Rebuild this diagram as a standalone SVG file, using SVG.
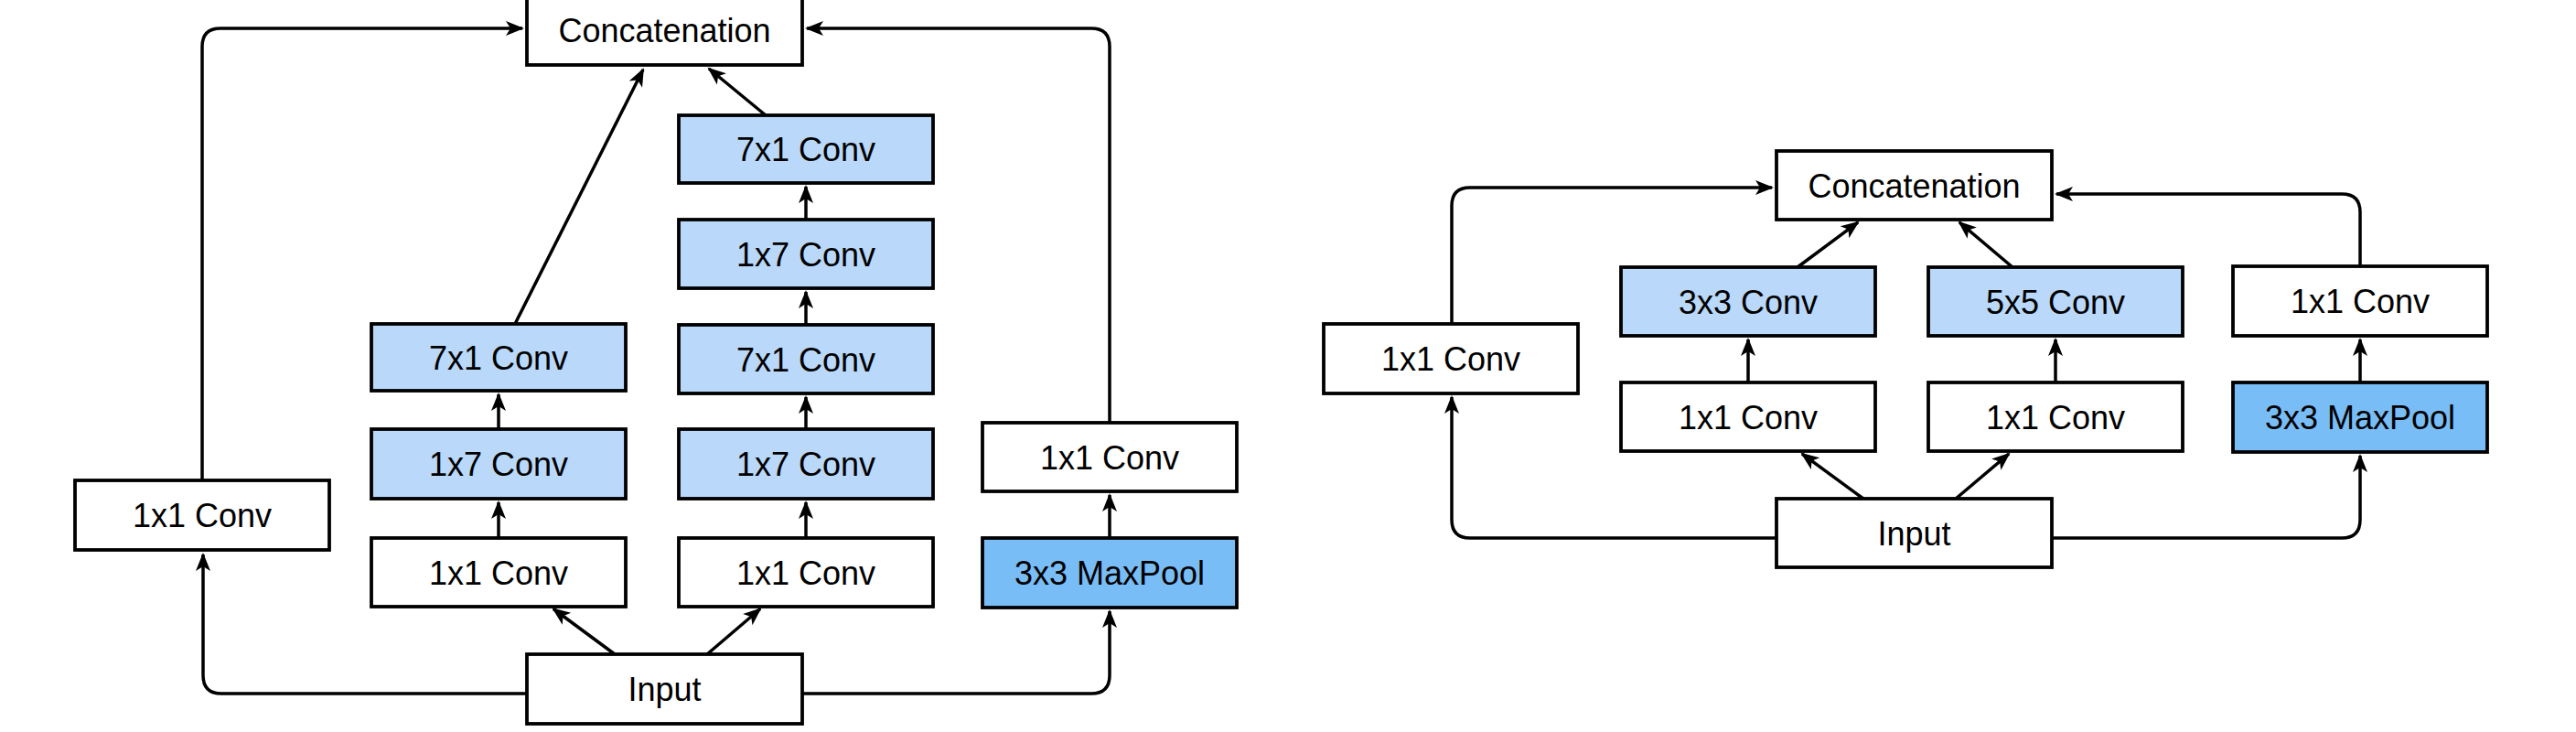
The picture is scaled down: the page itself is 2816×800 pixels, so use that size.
<svg xmlns="http://www.w3.org/2000/svg" width="2816" height="800" viewBox="0 0 2816 800">
<style>
.box{stroke:#000;stroke-width:3.8;fill:#fff}
.lb{fill:#b9d8fa}
.db{fill:#79bdf7}
.t{font-family:"Liberation Sans",Arial,sans-serif;font-size:36px;fill:#000;text-anchor:middle}
.c{fill:none;stroke:#000;stroke-width:3.5;marker-end:url(#ah)}
</style>
<defs>
<marker id="ah" viewBox="-22 -10 25 20" refX="0" refY="0" markerWidth="25" markerHeight="20" markerUnits="userSpaceOnUse" orient="auto">
<path d="M2,0 L-18,-8 L-13,0 L-18,8 Z" fill="#000"/>
</marker>
</defs>
<rect width="2816" height="800" fill="#fff"/>
<g id="connectors">
<path class="c" d="M576,758 H242 Q222,758 222,738 V606"/>
<path class="c" d="M221,525 V51 Q221,31 241,31 H571"/>
<path class="c" d="M672,715 L605,665.5"/>
<path class="c" d="M773,715 L831,665.5"/>
<path class="c" d="M545,588 V549"/>
<path class="c" d="M545,469 V431"/>
<path class="c" d="M563,354 L703,76"/>
<path class="c" d="M881,588 V549"/>
<path class="c" d="M881,469 V434"/>
<path class="c" d="M881,355 V319"/>
<path class="c" d="M881,240 V204"/>
<path class="c" d="M837,126 L775,75"/>
<path class="c" d="M877,758 H1193 Q1213,758 1213,738 V668"/>
<path class="c" d="M1213,588 V541"/>
<path class="c" d="M1213,462 V51 Q1213,31 1193,31 H882"/>
<path class="c" d="M1942,588 H1607 Q1587,588 1587,568 V434"/>
<path class="c" d="M1587,354 V225 Q1587,205 1607,205 H1937"/>
<path class="c" d="M2243,588 H2560 Q2580,588 2580,568 V498"/>
<path class="c" d="M2580,418 V371"/>
<path class="c" d="M2580,291 V232 Q2580,212 2560,212 H2248"/>
<path class="c" d="M1911,418 V371"/>
<path class="c" d="M2247,418 V371"/>
<path class="c" d="M1965,292 L2031,243"/>
<path class="c" d="M2200,292 L2142,243"/>
<path class="c" d="M2037,545 L1970,496"/>
<path class="c" d="M2138,545 L2196,496"/>
</g>
<g id="l-concat"><rect class="box" x="576" y="-5" width="301" height="76"/><text class="t" x="726.5" y="46">Concatenation</text></g>
<g id="l-conv1x1-a"><rect class="box" x="82" y="525" width="278" height="76"/><text class="t" x="221" y="576">1x1 Conv</text></g>
<g id="l-conv1x1-b"><rect class="box" x="406" y="588" width="278" height="75"/><text class="t" x="545" y="639">1x1 Conv</text></g>
<g id="l-conv1x7-b"><rect class="box lb" x="406" y="469" width="278" height="76"/><text class="t" x="545" y="520">1x7 Conv</text></g>
<g id="l-conv7x1-b"><rect class="box lb" x="406" y="354" width="278" height="73"/><text class="t" x="545" y="404">7x1 Conv</text></g>
<g id="l-conv1x1-c"><rect class="box" x="742" y="588" width="278" height="75"/><text class="t" x="881" y="639">1x1 Conv</text></g>
<g id="l-conv1x7-c1"><rect class="box lb" x="742" y="469" width="278" height="76"/><text class="t" x="881" y="520">1x7 Conv</text></g>
<g id="l-conv7x1-c1"><rect class="box lb" x="742" y="355" width="278" height="75"/><text class="t" x="881" y="406">7x1 Conv</text></g>
<g id="l-conv1x7-c2"><rect class="box lb" x="742" y="240" width="278" height="75"/><text class="t" x="881" y="291">1x7 Conv</text></g>
<g id="l-conv7x1-c2"><rect class="box lb" x="742" y="126" width="278" height="74"/><text class="t" x="881" y="176">7x1 Conv</text></g>
<g id="l-conv1x1-d"><rect class="box" x="1074" y="462" width="278" height="75"/><text class="t" x="1213" y="513">1x1 Conv</text></g>
<g id="l-maxpool"><rect class="box db" x="1074" y="588" width="278" height="76"/><text class="t" x="1213" y="639">3x3 MaxPool</text></g>
<g id="l-input"><rect class="box" x="576" y="715" width="301" height="76"/><text class="t" x="726.5" y="766">Input</text></g>
<g id="r-concat"><rect class="box" x="1942" y="165" width="301" height="75"/><text class="t" x="2092.5" y="216">Concatenation</text></g>
<g id="r-conv1x1-a"><rect class="box" x="1447" y="354" width="278" height="76"/><text class="t" x="1586" y="405">1x1 Conv</text></g>
<g id="r-conv3x3"><rect class="box lb" x="1772" y="292" width="278" height="75"/><text class="t" x="1911" y="343">3x3 Conv</text></g>
<g id="r-conv5x5"><rect class="box lb" x="2108" y="292" width="278" height="75"/><text class="t" x="2247" y="343">5x5 Conv</text></g>
<g id="r-conv1x1-d"><rect class="box" x="2441" y="291" width="278" height="76"/><text class="t" x="2580" y="342">1x1 Conv</text></g>
<g id="r-conv1x1-b"><rect class="box" x="1772" y="418" width="278" height="75"/><text class="t" x="1911" y="469">1x1 Conv</text></g>
<g id="r-conv1x1-c"><rect class="box" x="2108" y="418" width="278" height="75"/><text class="t" x="2247" y="469">1x1 Conv</text></g>
<g id="r-maxpool"><rect class="box db" x="2441" y="418" width="278" height="76"/><text class="t" x="2580" y="469">3x3 MaxPool</text></g>
<g id="r-input"><rect class="box" x="1942" y="545" width="301" height="75"/><text class="t" x="2092.5" y="596">Input</text></g>
</svg>
